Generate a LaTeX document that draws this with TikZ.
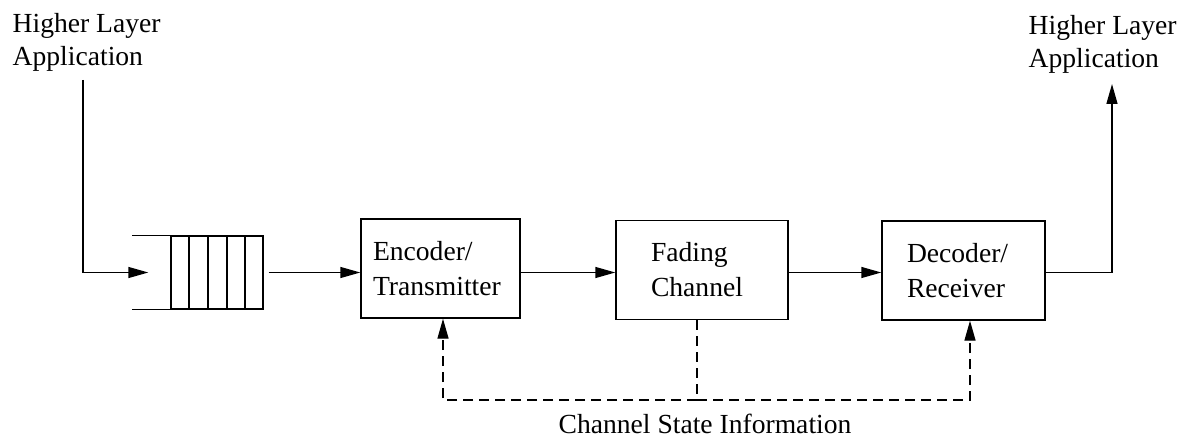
\documentclass[tikz,border=0pt]{standalone}
\usepackage{fontspec}
\setmainfont{Liberation Serif}
\usetikzlibrary{arrows.meta}
\begin{document}
\begin{tikzpicture}[x=1pt,y=-1pt,
  line width=1.4pt,
  arr/.style={-{Triangle[length=20pt,width=11pt]}},
  dsh/.style={dash pattern=on 10pt off 6pt},
  blk/.style={draw, align=left, minimum height=99pt, inner ysep=0pt,
              font=\fontsize{27.6}{35}\selectfont},
  lbl/.style={align=left, inner sep=0pt, font=\fontsize{27.6}{33}\selectfont}]
\useasboundingbox (0,0) rectangle (1178,438);

% labels
\node[lbl, anchor=north west] (srcl) at (12,13) {Higher Layer\\Application};
\node[lbl, anchor=north west] (snkl) at (1028,15) {Higher Layer\\Application};

% queue
\node[draw, minimum width=92pt, minimum height=73pt, inner sep=0pt] (q) at (217,272.5) {};
\foreach \xx in {189,208,227,245} \draw (q.north -| \xx,0) -- (q.south -| \xx,0);
\draw (q.north west) -- ++(-38,0);
\draw (q.south west) -- ++(-38,0);

% blocks
\node[blk, text width=135pt, inner xsep=12pt] (enc) at (440.5,268.5) {Encoder/\\Transmitter};
\node[blk, text width=102pt, inner xsep=35pt] (fad) at (702,270) {Fading\\Channel};
\node[blk, text width=113pt, inner xsep=25pt] (dec) at (963.5,270.5) {Decoder/\\Receiver};

% data path
\coordinate (src) at (83,80);
\coordinate (snk) at (1112,84);
\draw[arr] (src) |- ([xshift=-22pt]q.west);
\draw[arr] ([xshift=5pt]q.east) -- (q.east -| enc.west);
\draw[arr] (enc.east |- q.east) -- (fad.west |- q.east);
\draw[arr] (fad.east |- q.east) -- (dec.west |- q.east);
\draw[arr] (dec.east |- q.east) -| (snk);

% channel state information
\coordinate (csi) at (697,400);
\draw[dsh] ([xshift=-5pt]fad.south) -- (csi);
\draw[dsh,arr] (csi) -| ([xshift=2.5pt]enc.south);
\draw[dsh,arr] (csi) -| ([xshift=6.5pt]dec.south);
\node[lbl, anchor=base] (csitxt) at (705,433) {Channel State Information};
\end{tikzpicture}
\end{document}
